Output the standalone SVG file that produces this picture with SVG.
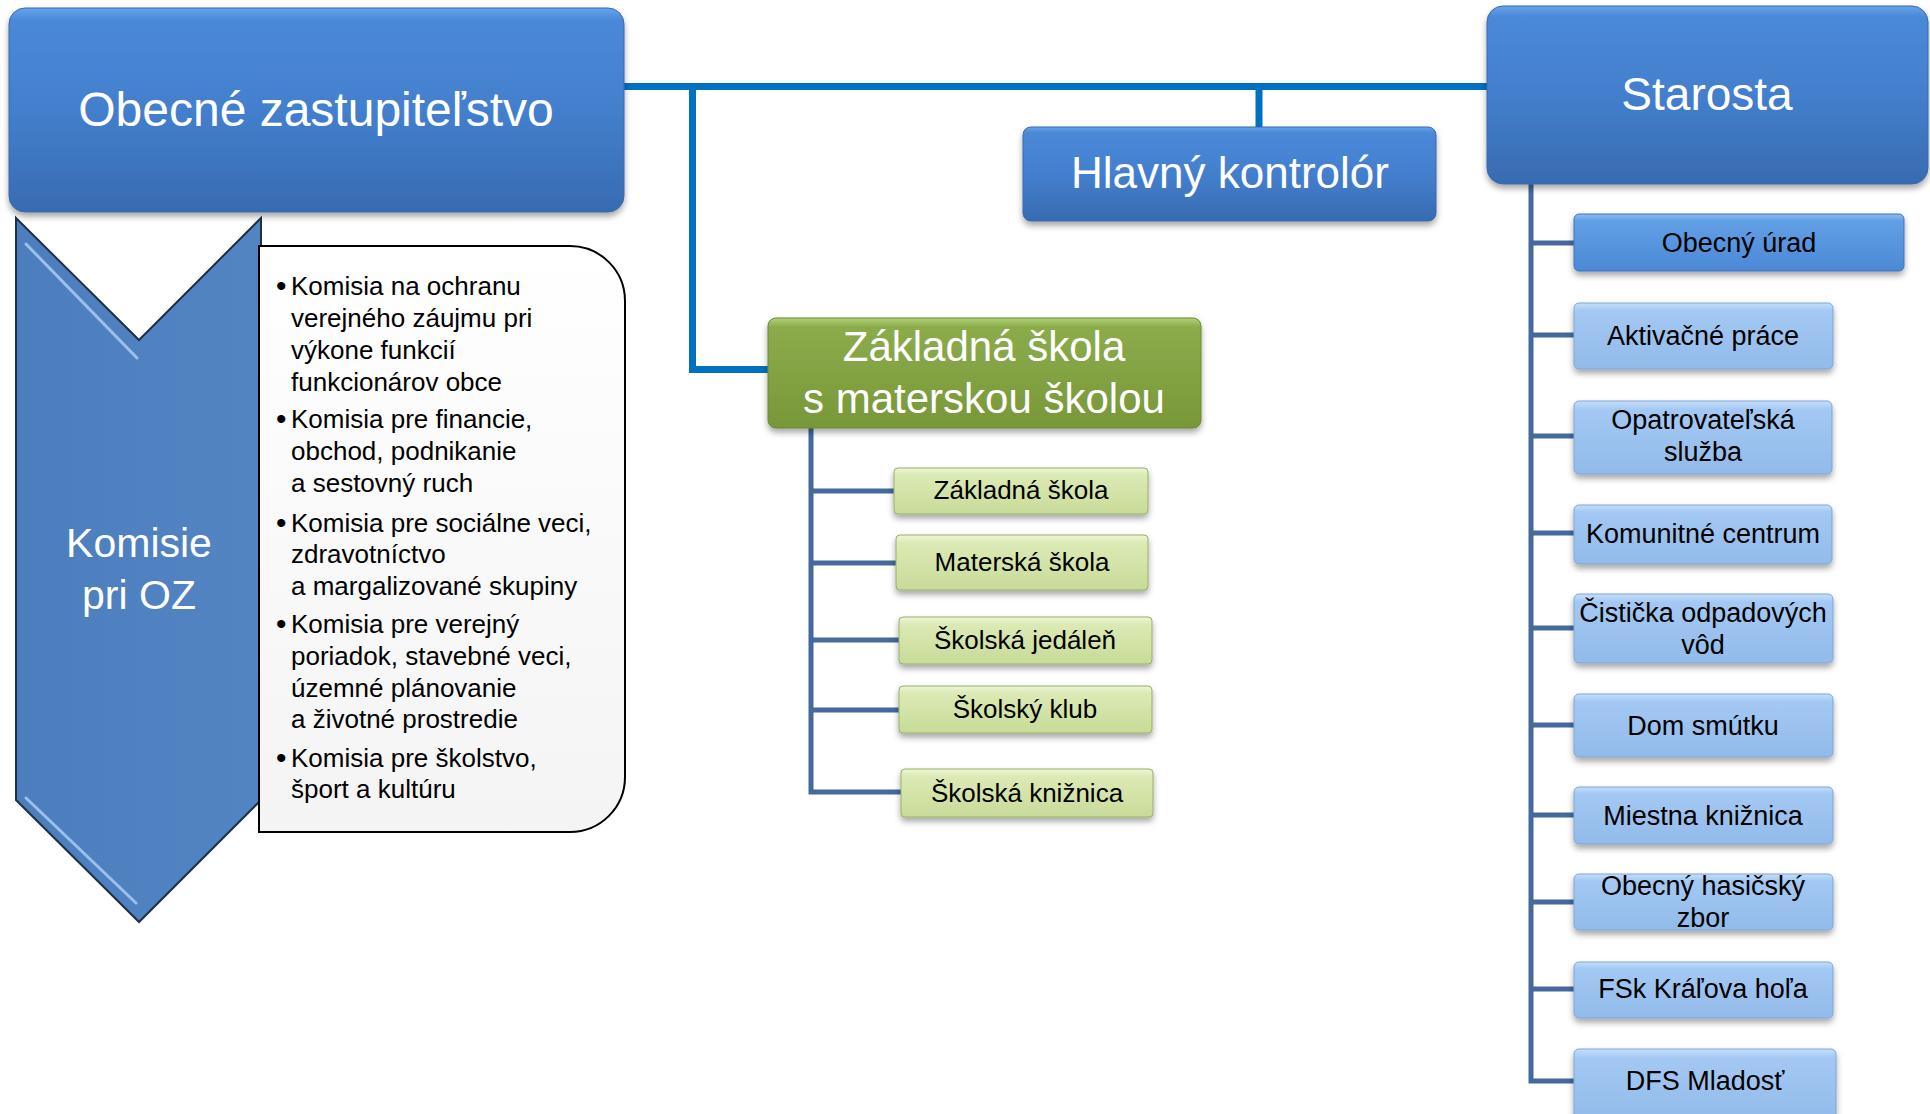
<svg xmlns="http://www.w3.org/2000/svg" width="1930" height="1114" viewBox="0 0 1930 1114">
<style>
text{font-family:"Liberation Sans",Arial,sans-serif;}
.wt{fill:#ffffff;text-anchor:middle;}
.bk{fill:#000000;text-anchor:middle;font-size:27px;}
.gk{fill:#000000;text-anchor:middle;font-size:26px;}
.lst{fill:#000000;font-size:26px;}
.bul{font-size:30px;}
.main{stroke:#0070C0;stroke-width:7;fill:none;}
.sub{stroke:#44699C;stroke-width:5;fill:none;}
.bigblue{fill:url(#gBlue);stroke:#3A68AA;stroke-width:1;filter:url(#sh);}
.lblue{fill:url(#gLight);stroke:#7EA4D4;stroke-width:1;filter:url(#sh);}
.mblue{fill:url(#gMid);stroke:#3F75BD;stroke-width:1;filter:url(#sh);}
.lgreen{fill:url(#gLGreen);stroke:#97AF69;stroke-width:1;filter:url(#sh);}
.hl{fill:none;stroke:#A9CBF2;stroke-opacity:0.85;stroke-width:3;stroke-linecap:round;}
</style>
<defs>
<filter id="sh" x="-10%" y="-20%" width="120%" height="150%">
<feDropShadow dx="0" dy="4" stdDeviation="3" flood-color="#000" flood-opacity="0.35"/>
</filter>
<linearGradient id="gBlue" x1="0" y1="0" x2="0" y2="1">
<stop offset="0" stop-color="#67A3EA"/>
<stop offset="0.06" stop-color="#4A89D8"/>
<stop offset="0.5" stop-color="#437FCD"/>
<stop offset="1" stop-color="#386BB1"/>
</linearGradient>
<linearGradient id="gMid" x1="0" y1="0" x2="0" y2="1">
<stop offset="0" stop-color="#8CBDF2"/>
<stop offset="0.12" stop-color="#619FE6"/>
<stop offset="1" stop-color="#4C89D5"/>
</linearGradient>
<linearGradient id="gLight" x1="0" y1="0" x2="0" y2="1">
<stop offset="0" stop-color="#C6DFFA"/>
<stop offset="0.12" stop-color="#A3C8F3"/>
<stop offset="1" stop-color="#92BBEA"/>
</linearGradient>
<linearGradient id="gGreen" x1="0" y1="0" x2="0" y2="1">
<stop offset="0" stop-color="#B3D27A"/>
<stop offset="0.08" stop-color="#8CAC4C"/>
<stop offset="1" stop-color="#789739"/>
</linearGradient>
<linearGradient id="gLGreen" x1="0" y1="0" x2="0" y2="1">
<stop offset="0" stop-color="#EEF6D8"/>
<stop offset="0.15" stop-color="#DCEAB5"/>
<stop offset="1" stop-color="#C8DB98"/>
</linearGradient>
<linearGradient id="gChev" x1="0" y1="0" x2="1" y2="0">
<stop offset="0" stop-color="#4C7EBE"/>
<stop offset="1" stop-color="#5384C2"/>
</linearGradient>
<linearGradient id="gNote" x1="0" y1="0" x2="0" y2="1">
<stop offset="0" stop-color="#FFFFFF"/>
<stop offset="1" stop-color="#F4F4F4"/>
</linearGradient>
</defs>
<rect width="1930" height="1114" fill="#ffffff"/>

<g id="connectors">
<path class="main" d="M624,86.5 H1487"/>
<path class="main" d="M692.5,86.5 V369.5 H768"/>
<path class="main" d="M1259,86.5 V127"/>
<path class="sub" d="M811,428 V792 H901"/>
<path class="sub" d="M811,491 H894 M811,563 H896 M811,640 H899 M811,710 H899"/>
<path class="sub" d="M1531,184 V1081 H1574"/>
<path class="sub" d="M1531,243 H1574 M1531,335 H1574 M1531,436 H1574 M1531,533 H1574 M1531,628 H1574 M1531,725 H1574 M1531,815 H1574 M1531,902 H1574 M1531,989 H1574"/>
</g>

<g id="obecne-zastupitelstvo">
<rect class="bigblue" x="9" y="8" width="615" height="204" rx="16"/>
<text class="wt" x="316" y="126" font-size="48">Obecné zastupiteľstvo</text>
</g>

<g id="komisie">
<polygon points="16,218 139,340 261,218 261,800 139,922 16,800" fill="url(#gChev)" stroke="#1F2F45" stroke-width="2"/>
<path class="hl" d="M26,244 L137,358"/>
<path class="hl" d="M26,798 L136,903"/>
<text class="wt" x="139" y="557" font-size="41">Komisie</text>
<text class="wt" x="139" y="609" font-size="41">pri OZ</text>
</g>

<g id="komisie-zoznam">
<path d="M259,246 H570 A55,55 0 0 1 625,301 V777 A55,55 0 0 1 570,832 H259 Z" fill="url(#gNote)" stroke="#000000" stroke-width="2"/>
<text class="lst">
<tspan class="bul" x="276" y="296">•</tspan><tspan x="291" y="295">Komisia na ochranu</tspan>
<tspan x="291" y="327">verejného záujmu pri</tspan>
<tspan x="291" y="359">výkone funkcií</tspan>
<tspan x="291" y="391">funkcionárov obce</tspan>
<tspan class="bul" x="276" y="429">•</tspan><tspan x="291" y="428">Komisia pre financie,</tspan>
<tspan x="291" y="460">obchod, podnikanie</tspan>
<tspan x="291" y="492">a sestovný ruch</tspan>
<tspan class="bul" x="276" y="533">•</tspan><tspan x="291" y="532">Komisia pre sociálne veci,</tspan>
<tspan x="291" y="563">zdravotníctvo</tspan>
<tspan x="291" y="595">a margalizované skupiny</tspan>
<tspan class="bul" x="276" y="634">•</tspan><tspan x="291" y="633">Komisia pre verejný</tspan>
<tspan x="291" y="665">poriadok, stavebné veci,</tspan>
<tspan x="291" y="697">územné plánovanie</tspan>
<tspan x="291" y="728">a životné prostredie</tspan>
<tspan class="bul" x="276" y="768">•</tspan><tspan x="291" y="767">Komisia pre školstvo,</tspan>
<tspan x="291" y="798">šport a kultúru</tspan>
</text>
</g>

<g id="hlavny-kontrolor">
<rect class="bigblue" x="1023" y="127" width="413" height="94" rx="8"/>
<text class="wt" x="1230" y="188" font-size="44">Hlavný kontrolór</text>
</g>

<g id="starosta">
<rect class="bigblue" x="1487" y="6" width="441" height="178" rx="16"/>
<text class="wt" x="1707" y="110" font-size="46">Starosta</text>
</g>

<g id="zakladna-skola-ms">
<rect x="768" y="318" width="433" height="110" rx="8" fill="url(#gGreen)" stroke="#6A8832" stroke-width="1" filter="url(#sh)"/>
<text class="wt" x="984" y="361" font-size="42">Základná škola</text>
<text class="wt" x="984" y="413" font-size="42">s materskou školou</text>
</g>

<g id="zs"><rect class="lgreen" x="894" y="468" width="254" height="46" rx="4"/><text class="gk" x="1021" y="499">Základná škola</text></g>
<g id="ms"><rect class="lgreen" x="896" y="535" width="252" height="55" rx="4"/><text class="gk" x="1022" y="571">Materská škola</text></g>
<g id="jedalen"><rect class="lgreen" x="899" y="617" width="253" height="47" rx="4"/><text class="gk" x="1025" y="649">Školská jedáleň</text></g>
<g id="klub"><rect class="lgreen" x="899" y="686" width="253" height="47" rx="4"/><text class="gk" x="1025" y="718">Školský klub</text></g>
<g id="skolska-kniznica"><rect class="lgreen" x="901" y="769" width="252" height="48" rx="4"/><text class="gk" x="1027" y="802">Školská knižnica</text></g>

<g id="obecny-urad"><rect class="mblue" x="1574" y="214" width="330" height="57" rx="5"/><text class="bk" x="1739" y="252">Obecný úrad</text></g>
<g id="aktivacne"><rect class="lblue" x="1574" y="303" width="259" height="66" rx="5"/><text class="bk" x="1703" y="345">Aktivačné práce</text></g>
<g id="opatrovatelska"><rect class="lblue" x="1574" y="401" width="258" height="73" rx="5"/><text class="bk" x="1703" y="429">Opatrovateľská</text><text class="bk" x="1703" y="461">služba</text></g>
<g id="komunitne"><rect class="lblue" x="1574" y="505" width="258" height="59" rx="5"/><text class="bk" x="1703" y="543">Komunitné centrum</text></g>
<g id="cisticka"><rect class="lblue" x="1574" y="594" width="259" height="69" rx="5"/><text class="bk" x="1703" y="622">Čistička odpadových</text><text class="bk" x="1703" y="654">vôd</text></g>
<g id="dom-smutku"><rect class="lblue" x="1574" y="694" width="259" height="63" rx="5"/><text class="bk" x="1703" y="735">Dom smútku</text></g>
<g id="miestna-kniznica"><rect class="lblue" x="1574" y="787" width="259" height="57" rx="5"/><text class="bk" x="1703" y="825">Miestna knižnica</text></g>
<g id="hasicsky"><rect class="lblue" x="1574" y="874" width="259" height="56" rx="5"/><text class="bk" x="1703" y="895">Obecný hasičský</text><text class="bk" x="1703" y="927">zbor</text></g>
<g id="fsk"><rect class="lblue" x="1574" y="962" width="259" height="56" rx="5"/><text class="bk" x="1703" y="998">FSk Kráľova hoľa</text></g>
<g id="dfs"><rect class="lblue" x="1574" y="1049" width="262" height="75" rx="5"/><text class="bk" x="1705" y="1090">DFS Mladosť</text></g>
</svg>
